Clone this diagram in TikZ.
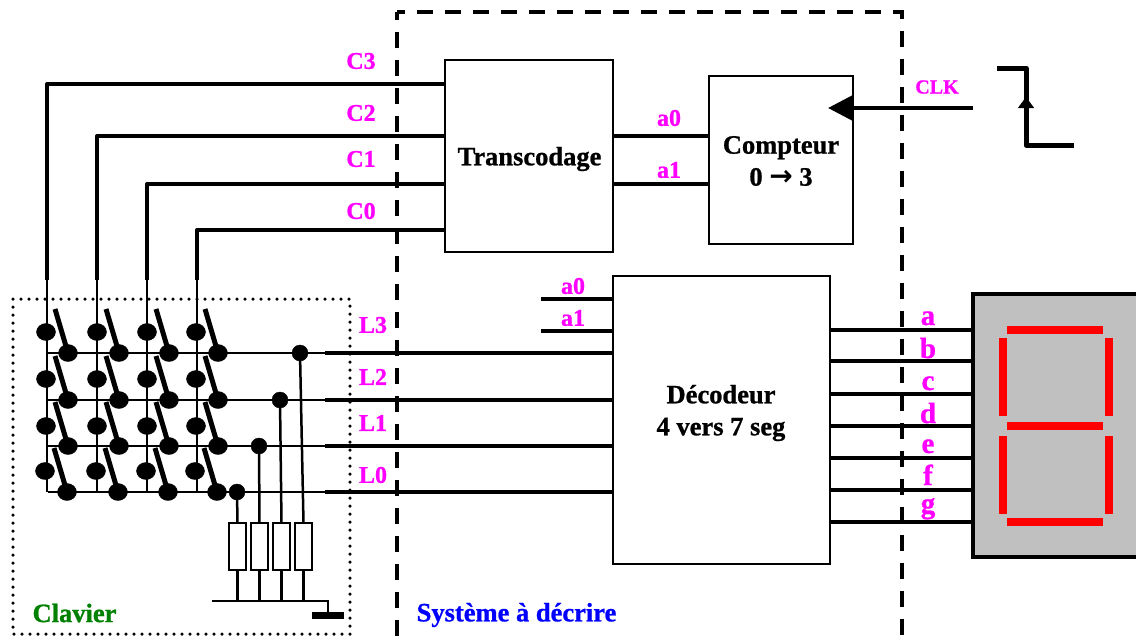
\documentclass[tikz,border=0pt]{standalone}
\usepackage{xcolor}
\usepackage{fontspec}
\usepackage{tikz}
\usetikzlibrary{arrows.meta,shapes.geometric}
\setmainfont{Liberation Serif}[BoldFeatures={FakeBold=0.9}]
\newfontfamily\flechefont{DejaVu Sans Bold}
\definecolor{rose}{RGB}{255,0,255}
\definecolor{vertclavier}{RGB}{0,128,0}
\definecolor{gris}{RGB}{192,192,192}
\tikzset{
  fin/.style={line width=2.5pt},
  epais/.style={line width=4pt},
  bloc/.style={draw,line width=2pt,fill=white,inner sep=0pt,outer sep=0pt},
  titre/.style={inner sep=0pt,align=center,font=\fontsize{26.5}{32}\selectfont\bfseries},
  sig/.style={text=rose,inner sep=0pt,font=\fontsize{24}{24}\selectfont\bfseries},
  segnom/.style={text=rose,anchor=base,inner sep=0pt,font=\fontsize{29}{29}\selectfont\bfseries},
  plot/.style={draw,ellipse,fill=black,inner sep=0pt,minimum width=19pt,minimum height=17pt},
  resist/.style={draw,line width=2pt,fill=white,inner sep=0pt,outer sep=0pt,minimum width=17pt,minimum height=47pt},
  seg/.style={fill=red,draw=none,inner sep=0pt},
  cadre/.style={line width=4pt,dash pattern=on 16pt off 12pt,dash phase=8pt}
}
\begin{document}
\begin{tikzpicture}[x=1pt,y=-1pt]
  \useasboundingbox (0,0) rectangle (1136,635);
  \clip (0,0) rectangle (1136,635);
  % les textes passent sous les fils
  \node[sig] (lc3) at (361,61) {C3}; \node[sig] (lc2) at (361,113) {C2};
  \node[sig] (lc1) at (361,159) {C1}; \node[sig] (lc0) at (361,211) {C0};
  \node[sig] (ll3) at (373,325) {L3}; \node[sig] (ll2) at (373,377) {L2};
  \node[sig] (ll1) at (373,423) {L1}; \node[sig] (ll0) at (373,475) {L0};
  \node[sig] (lca0) at (669,118) {a0}; \node[sig] (lca1) at (669,170) {a1};
  \node[sig] (lda0) at (573,286) {a0}; \node[sig] (lda1) at (573,318) {a1};
  \node[sig,font=\fontsize{20}{20}\selectfont\bfseries] (lclk) at (937,87) {CLK};
  \foreach \nom/\y in {a/325,b/358,c/390,d/423,e/453,f/485,g/513}
     \node[segnom] (ls\nom) at (928,\y) {\nom};
  % blocs
  \node[bloc,minimum width=168pt,minimum height=192pt] (transco) at (529,156) {};
  \node[bloc,minimum width=144pt,minimum height=168pt] (compteur) at (781,160) {};
  \node[bloc,minimum width=217pt,minimum height=288pt] (decodeur) at (721.5,420) {};
  \node[titre] (ttransco) at (529.5,159) {Transcodage};
  \node[titre] (tcompteur) at (781,161) {Compteur\\0 {\flechefont\fontsize{28}{28}\selectfont →} 3};
  \node[titre] (tdecodeur) at (721,413) {Décodeur\\4 vers 7 seg};
  % colonnes
  \foreach \c/\x/\y in {3/47/84,2/97/136,1/147/184,0/197/230} {
     \coordinate (hc\c) at (\x,\y);
     \coordinate (mc\c) at (\x,280);
     \coordinate (bc\c) at (\x,492);
     \draw[epais,line join=round] (hc\c -| transco.west) -- (hc\c) -- (mc\c);
     \draw[fin] (mc\c) -- (bc\c);
  }
  % lignes
  \foreach \l/\y in {3/353,2/400,1/446,0/492} {
     \coordinate (gl\l) at (48,\y);
     \coordinate (ml\l) at (325,\y);
     \draw[fin] (gl\l) -- (ml\l);
     \draw[epais] (ml\l) -- (ml\l -| decodeur.west);
  }
  % touches
  \foreach \yd/\yg/\dec in {353/332/0,400/379/0,446/426/0,492/471/-1} {
     \foreach \xg/\xd in {46/68,97/119,147/169,196/218} {
        \node[plot] (g\xg\yd) at (\xg+\dec,\yg) {};
        \node[plot] (d\xg\yd) at (\xd+\dec,\yd) {};
        \coordinate (t\xg\yd) at (\xd-13+\dec,\yd-44);
        \draw[line width=5pt] (t\xg\yd) -- (d\xg\yd.center);
     }
  }
  % resistances
  \foreach \n/\xp/\yp/\xr in {0/237/492/237.5,1/259/446/259.5,2/280/400/281.5,3/300/353/303.5} {
     \node[plot,minimum width=16pt,minimum height=16pt] (p\n) at (\xp,\yp) {};
     \node[resist] (r\n) at (\xr,546.5) {};
     \draw[fin] (p\n.center) -- (r\n.north);
  }
  \coordinate (bara) at (212,601);
  \coordinate (barb) at (328,601);
  \node[fill=black,inner sep=0pt,minimum width=32pt,minimum height=7pt] (masse) at (328,615.5) {};
  \foreach \n in {0,1,2,3}
     \draw[fin] (r\n.south) -- (r\n.south |- bara);
  \draw[fin] (bara) -- (barb) -- (masse.north);
  % compteur vers transcodage et decodeur
  \coordinate (a0) at (613,136); \coordinate (a1) at (613,184);
  \draw[epais] (a0) -- (a0 -| compteur.west);
  \draw[epais] (a1) -- (a1 -| compteur.west);
  \coordinate (da0) at (541,299); \coordinate (da1) at (541,331);
  \draw[epais] (da0) -- (da0 -| decodeur.west);
  \draw[epais] (da1) -- (da1 -| decodeur.west);
  % horloge
  \coordinate (clkg) at (973,108); \coordinate (clkp) at (828,108);
  \draw[epais,-{Triangle[length=25pt,width=25pt]}] (clkg) -- (clkp);
  \coordinate (hor1) at (997,68); \coordinate (hor2) at (1026,68);
  \coordinate (hor3) at (1026,145); \coordinate (hor4) at (1074,145);
  \draw[line width=5pt,line join=round] (hor1) -- (hor2) -- (hor3) -- (hor4);
  \coordinate (fla) at (1026,112);
  \coordinate (flb) at (1026,97);
  \draw[line width=1pt,-{Triangle[length=11pt,width=16pt]}] (fla) -- (flb);
  % afficheur
  \node[draw,line width=4pt,fill=gris,inner sep=0pt,outer sep=0pt,minimum width=200pt,minimum height=263pt] (aff) at (1073,425.5) {};
  \foreach \nom/\y in {a/329.5,b/361,c/394,d/426,e/458,f/490,g/522} {
     \coordinate (s\nom) at (830,\y);
     \draw[epais] (s\nom) -- (s\nom -| aff.west);
  }
  \foreach \nom/\xc/\yc in {sa/1055/330,sg/1055/426,sd/1055/522}
     \node[seg,minimum width=96pt,minimum height=8pt] (\nom) at (\xc,\yc) {};
  \foreach \nom/\xc/\yc in {sf/1003/377,sb/1109/377,se/1003/475,sc/1109/475}
     \node[seg,minimum width=8pt,minimum height=78pt] (\nom) at (\xc,\yc) {};
  % cadres
  \draw[line width=3.5pt,line cap=round,dash pattern=on 0pt off 8pt] (13,299) rectangle (350,634);
  \draw[cadre] (397,12) -- (902,12) -- (902,645);
  \draw[cadre] (397,12) -- (397,645);
  \node[text=vertclavier,inner sep=0pt,font=\fontsize{26.5}{26.5}\selectfont\bfseries] (clavier) at (74.5,613) {Clavier};
  \node[text=blue,inner sep=0pt,font=\fontsize{26.5}{26.5}\selectfont\bfseries] (systeme) at (516.5,615) {Système à décrire};
\end{tikzpicture}
\end{document}
